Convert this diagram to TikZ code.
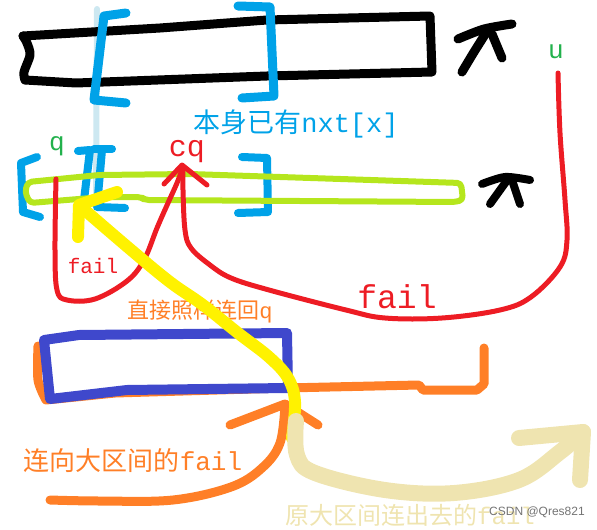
\documentclass[tikz,border=0pt]{standalone}
\usepackage{fontspec}
\setmonofont{Liberation Mono}
\setsansfont{Liberation Sans}
\newfontfamily\cjk{Noto Sans CJK SC}
\usepackage{tikz}

\definecolor{paintblue}{HTML}{00A2E8}
\definecolor{paleblue}{HTML}{CDE8F1}
\definecolor{lime}{HTML}{B5E61D}
\definecolor{paintred}{HTML}{ED1C24}
\definecolor{paintgreen}{HTML}{22B14C}
\definecolor{paintorange}{HTML}{FF7F27}
\definecolor{indigo}{HTML}{3F48CC}
\definecolor{paintyellow}{HTML}{FFF200}
\definecolor{cream}{HTML}{EFE4B0}
\newcommand{\setsz}[1]{\fontsize{#1}{#1}\selectfont}

\begin{document}
\begin{tikzpicture}[x=1pt, y=-1pt,
    pen/.style={line width=#1, line cap=round, line join=round},
    lbl/.style={inner sep=0pt}]
  \useasboundingbox (0,0) rectangle (597,530);

  % Faint guide line
  \draw[pen=6, paleblue] (97,9) -- (96,200);

  % Big interval (black bar)
  \draw[pen=9] plot[smooth, tension=0.5] coordinates {(25,80) (24,72) (30,55) (27,43) (23,36)};
  \draw[pen=9] (23,36) -- (160,28) -- (267,20) -- (430,16) -- (432,72) -- (267,76) -- (76,83) -- (25,80);
  \draw[pen=9] plot[smooth] coordinates {(458,39) (484,29) (512,24)};
  \draw[pen=9] plot[smooth] coordinates {(462,72) (474,52) (486,33)};
  \draw[pen=9] (492,34) -- (502,58);

  % Blue brackets
  \draw[pen=9, paintblue] (126,13) -- (104,16) -- (94,100) -- (126,103);
  \draw[pen=9, paintblue] (238,6) -- (270,7) -- (274,96) -- (242,98);
  \draw[pen=8, paintblue] (37,157) -- (21,163) -- (23,212) -- (40,217);
  \draw[pen=8, paintblue] (78,151) -- (90,150) -- (84,200);
  \draw[pen=8, paintblue] (94,149) -- (112,149);
  \draw[pen=8, paintblue] (102,150) -- (97,207) -- (125,208);
  \draw[pen=8, paintblue] (242,157) -- (267,158) -- (268,212) -- (238,213);

  % Small interval (green bar)
  \draw[pen=6, lime, rounded corners=4pt] (28,182) -- (99,175) -- (190,174) -- (461,183) -- (463,200)
    -- (455,202) -- (145,200) -- (141,197) -- (103,197) -- (30,203) -- (25,192) -- cycle;
  \draw[pen=8] plot[smooth] coordinates {(482,184) (505,177) (530,180)};
  \draw[pen=8] (490,204) -- (508,179);
  \draw[pen=8] (513,183) -- (520,204);

  % Red fail links
  \draw[pen=5, paintred] plot[smooth, tension=0.6] coordinates {(56,179) (55,250) (57,290) (67,300)
    (95,299) (127,281) (144,260) (157,228) (168,203) (177,183) (183,167)};
  \draw[pen=5, paintred] plot[smooth, tension=0.6] coordinates {(558,73) (560,133) (565,200) (567,240)
    (560,267) (531,297) (500,310) (442,318) (385,318) (346,310) (269,290) (231,278) (210,265)
    (191,248) (185,230) (183,190) (183,167)};
  \draw[pen=5, paintred] (164,184) -- (182,165) -- (207,185);

  % Orange bracket and arrow
  \draw[pen=9, paintorange] plot[smooth] coordinates {(38,346) (38,380) (46,400)}
    -- (115,393) -- (285,388) -- (419,385) -- (423,390) -- (477,390) -- (484,384) -- (484,348);
  \draw[pen=9, paintorange] plot[smooth, tension=0.6] coordinates {(50,500) (100,501) (173,500)
    (231,487) (262,468) (280,443) (285,404)};
  \draw[pen=9, paintorange] (230,425) -- (285,404) -- (318,425);

  % Indigo box
  \draw[pen=10, indigo] (44,340) -- (79,335) -- (287,333) -- (288,388) -- (127,390) -- (50,399) -- cycle;

  % Labels
  \node[lbl, text=paintblue, font=\setsz{27}] (ownnxt) at (296,124) {{\cjk 本身已有}\texttt{nxt[x]}};
  \node[lbl, text=paintgreen, font=\setsz{26}\ttfamily] (qname) at (57,146) {q};
  \node[lbl, text=paintred, font=\setsz{30}\ttfamily] (cqname) at (187,152) {cq};
  \node[lbl, text=paintgreen, font=\setsz{26}\ttfamily] (uname) at (556,52) {u};
  \node[lbl, text=paintred, font=\setsz{21}\ttfamily] (failq) at (93,266) {fail};
  \node[lbl, text=paintred, font=\setsz{33}\ttfamily] (failu) at (397,297) {fail};
  \node[lbl, text=paintorange, font=\setsz{22}] (backq) at (200,312) {{\cjk 直接照样连回}\texttt{q}};
  \node[lbl, text=paintorange, font=\setsz{26}] (tobig) at (133,461) {{\cjk 连向大区间的}\texttt{fail}};

  % Yellow arrow
  \draw[pen=12, paintyellow] plot[smooth, tension=0.6] coordinates {(80,206) (130,249) (170,282)
    (203,305) (238,333) (269,357) (288,378) (295,402) (292,438)};
  \draw[pen=12, paintyellow] (117,192) -- (79,205) -- (78,237);

  % Cream arrow
  \draw[pen=16, cream] plot[smooth, tension=0.6] coordinates {(296,421) (297,455) (315,473)
    (385,490) (454,493) (519,480) (560,452) (583,432)};
  \draw[pen=16, cream] (519,438) -- (583,432) -- (580,480);
  \node[lbl, text=cream, font=\setsz{24}, anchor=north west] (frombig) at (285,504) {{\cjk 原大区间连出去的}\texttt{fail}};

  % Watermark
  \node[lbl, text=black!55, font=\setsz{12}\sffamily] (mark) at (537,512) {CSDN @Qres821};
\end{tikzpicture}
\end{document}
